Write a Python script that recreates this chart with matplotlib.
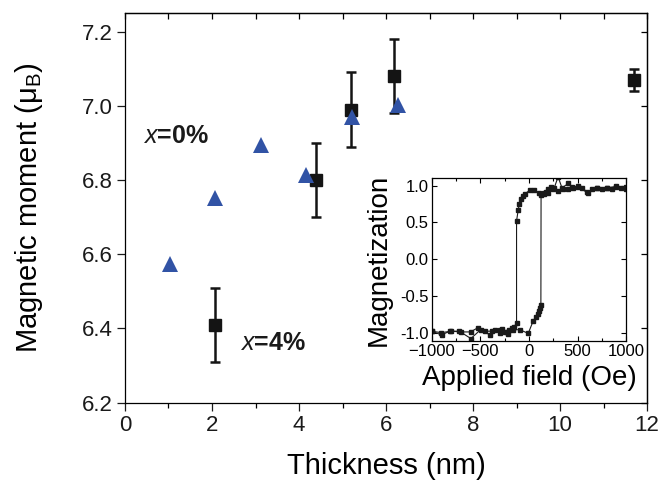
import numpy as np
import matplotlib
matplotlib.use('Agg')
import matplotlib.pyplot as plt
from matplotlib import rcParams
from matplotlib.ticker import MultipleLocator

rcParams['font.family'] = ['Liberation Sans', 'DejaVu Sans']
rcParams['mathtext.fontset'] = 'custom'
rcParams['mathtext.rm'] = 'Liberation Sans'
rcParams['mathtext.it'] = 'Liberation Sans:italic'
rcParams['mathtext.bf'] = 'Liberation Sans:bold'
rcParams['axes.linewidth'] = 0.9

# x = 4% films (squares, with error bars)
sq_thick = [2.08, 4.40, 5.19, 6.19, 11.70]
sq_moment = [6.41, 6.80, 6.99, 7.08, 7.07]
sq_err = [0.10, 0.10, 0.10, 0.10, 0.03]

# x = 0% films (triangles)
tri_thick = [1.03, 2.08, 3.13, 4.17, 5.21, 6.28]
tri_moment = [6.574, 6.752, 6.894, 6.813, 6.971, 7.002]

# inset hysteresis loop, descending branch (from +1000 Oe)
h_down = [1000, 950, 900, 850, 800, 750, 700, 650, 600, 550, 500, 450, 400,
          350, 300, 250, 200, 150, 100, 50, 10, -40, -58, -82, -99, -110,
          -127, -127, -151, -178, -212, -247, -298, -349, -401, -497, -596,
          -716, -812, -898, -1000]
m_down = [0.95, 0.97, 0.98, 0.96, 0.97, 0.96, 0.97, 0.95, 0.91, 0.97, 0.98,
          0.97, 0.96, 0.95, 0.93, 0.95, 0.90, 0.89, 0.90, 0.94, 0.94, 0.89,
          0.86, 0.82, 0.75, 0.67, 0.52, -0.87, -0.92, -0.94, -1.02, -0.99,
          -1.01, -0.96, -1.03, -0.96, -1.08, -0.98, -0.98, -1.03, -0.98]

# ascending branch (from -1000 Oe)
h_up = [-1000, -900, -800, -700, -600, -521, -450, -380, -300, -274, -230,
        -200, -160, -93, -7, 44, 68, 89, 103, 115, 123, 125, 150, 180, 200,
        230, 260, 300, 340, 404, 439, 507, 603, 700, 800, 900, 1000]
m_up = [-0.98, -1.00, -0.98, -0.99, -0.99, -0.93, -0.98, -0.98, -0.97,
        -0.95, -0.99, -0.97, -0.96, -0.96, -1.01, -0.84, -0.79, -0.74, -0.70,
        -0.66, -0.63, 0.87, 0.90, 0.92, 0.95, 0.98, 0.97, 1.12, 0.97, 1.03,
        0.98, 0.99, 0.90, 0.97, 0.97, 0.99, 0.98]

fig = plt.figure(figsize=(6.63, 4.83), dpi=100)
ax = fig.add_axes([0.1885, 0.1662, 0.7875, 0.8068])

ax.errorbar(sq_thick, sq_moment, yerr=sq_err, fmt='s', color='#141414',
            markersize=8.5, elinewidth=1.8, capsize=3.6, capthick=1.8,
            zorder=3)
ax.plot(tri_thick, tri_moment, '^', color='#3153a5', markersize=11,
        markeredgewidth=0, zorder=4)

ax.set_xlim(0, 12)
ax.set_ylim(6.2, 7.25)
ax.xaxis.set_major_locator(MultipleLocator(2))
ax.xaxis.set_minor_locator(MultipleLocator(1))
ax.yaxis.set_major_locator(MultipleLocator(0.2))
ax.yaxis.set_major_formatter(matplotlib.ticker.FormatStrFormatter('%.1f'))
ax.tick_params(which='major', direction='out', length=5.5, width=0.9,
               labelsize=16, colors='#1a1a1a')
ax.tick_params(which='minor', direction='out', length=3.5, width=0.9)

top = ax.secondary_xaxis('top')
top.xaxis.set_major_locator(MultipleLocator(1))
top.tick_params(direction='in', length=4.5, width=0.9, labeltop=False)
right = ax.secondary_yaxis('right')
right.yaxis.set_major_locator(MultipleLocator(0.2))
right.tick_params(direction='in', length=4.5, width=0.9, labelright=False)

ax.set_xlabel('Thickness (nm)', fontsize=21, labelpad=11)
ax.set_ylabel(r'Magnetic moment ($\mathrm{\mu_B}$)', fontsize=21, labelpad=26)

ax.text(0.42, 6.899, r'$\mathit{x}$=0%', fontsize=18, fontweight='bold',
        va='baseline', ha='left', color='#1a1a1a')
ax.text(2.64, 6.342, r'$\mathit{x}$=4%', fontsize=18, fontweight='bold',
        va='baseline', ha='left', color='#1a1a1a')

# inset
ins = fig.add_axes([0.651, 0.293, 0.2935, 0.3385])
ins.plot(h_down, m_down, '-s', color='#1a1a1a', lw=0.8, markersize=3.2)
ins.plot(h_up, m_up, '-s', color='#1a1a1a', lw=0.8, markersize=3.2)
ins.set_xlim(-1000, 1000)
ins.set_ylim(-1.12, 1.105)
ins.xaxis.set_major_locator(MultipleLocator(500))
ins.xaxis.set_minor_locator(MultipleLocator(250))
ins.yaxis.set_major_locator(MultipleLocator(0.5))
ins.yaxis.set_major_formatter(matplotlib.ticker.FormatStrFormatter('%.1f'))
ins.tick_params(which='both', direction='in', top=True, right=True,
                width=0.8, labelsize=12, pad=2)
ins.tick_params(which='major', length=3.5)
ins.tick_params(which='minor', length=2.5)
ins.set_xlabel('Applied field (Oe)', fontsize=20, labelpad=4)
ins.set_ylabel('Magnetization', fontsize=20, labelpad=6)

plt.savefig('out.png', dpi=100)
